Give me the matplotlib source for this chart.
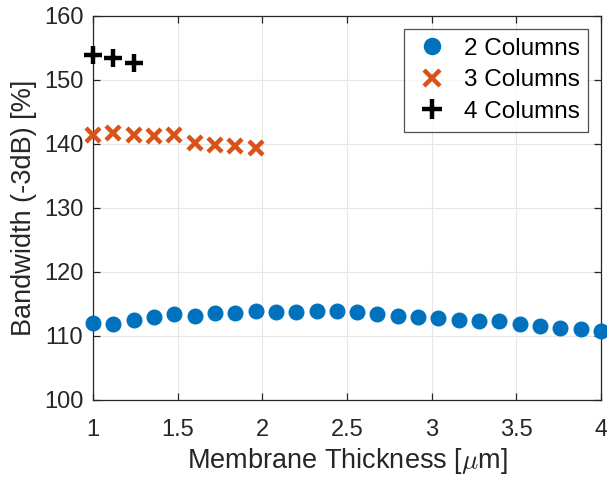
import numpy as np
import matplotlib.pyplot as plt

# thickness values (um)
x2 = [1.00, 1.12, 1.24, 1.36, 1.48, 1.60, 1.72, 1.84, 1.96, 2.08, 2.20, 2.32, 2.44,
      2.56, 2.68, 2.80, 2.92, 3.04, 3.16, 3.28, 3.40, 3.52, 3.64, 3.76, 3.88, 4.00]
bw2 = [112.0, 111.9, 112.5, 113.0, 113.5, 113.2, 113.6, 113.6, 113.95, 113.8, 113.8, 113.95, 113.95,
       113.7, 113.5, 113.2, 113.0, 112.8, 112.55, 112.3, 112.3, 111.9, 111.6, 111.2, 111.1, 110.8]

x3 = [1.00, 1.12, 1.24, 1.36, 1.48, 1.60, 1.72, 1.84, 1.96]
bw3 = [141.4, 141.7, 141.4, 141.25, 141.4, 140.2, 139.9, 139.7, 139.3]

x4 = [1.00, 1.12, 1.24]
bw4 = [153.9, 153.4, 152.6]

xticks = [1, 1.5, 2, 2.5, 3, 3.5, 4]
xticklabels = ['1', '1.5', '2', '2.5', '3', '3.5', '4']
yticks = [100, 110, 120, 130, 140, 150, 160]

plt.rcParams['font.family'] = ['Liberation Sans', 'DejaVu Sans']
plt.rcParams['mathtext.fontset'] = 'cm'

fig = plt.figure(figsize=(6.07, 4.78), dpi=100)
ax = fig.add_axes([93/607, 1 - 400/478, 508/607, 384/478])

txt = '#262626'
ax.plot(x2, bw2, 'o', color='#0072BD', markersize=10.5, label='2 Columns', clip_on=False, zorder=3)
ax.plot(x3, bw3, 'x', color='#D95319', markersize=10, markeredgewidth=3.2, label='3 Columns',
        clip_on=False, zorder=3)
ax.plot(x4, bw4, '+', color='black', markersize=12.5, markeredgewidth=3.2, label='4 Columns',
        clip_on=False, zorder=3)

ax.set_xlim(1, 4)
ax.set_ylim(100, 160)
ax.set_xticks(xticks)
ax.set_xticklabels(xticklabels)
ax.set_yticks(yticks)
ax.grid(True, color='#e6e6e6', linewidth=0.8)
ax.set_axisbelow(True)
ax.tick_params(direction='in', length=5, width=0.9, colors=txt, labelsize=17,
               top=True, right=True)
ax.tick_params(axis='y', pad=7)
ax.tick_params(axis='x', pad=14)
for s in ax.spines.values():
    s.set_color(txt)
    s.set_linewidth(0.9)

ax.set_xlabel(r'Membrane Thickness [$\mu$m]', fontsize=19.5, color=txt, labelpad=3)
ax.set_ylabel('Bandwidth (-3dB) [%]', fontsize=19.5, color=txt, labelpad=5)

leg = ax.legend(loc='upper right', fontsize=17.5, frameon=True, fancybox=False,
                edgecolor=txt, borderpad=0.35, handletextpad=0.5, labelspacing=0.4,
                borderaxespad=0, bbox_to_anchor=((588 - 93) / 508, (400 - 29) / 384),
                handlelength=1.6, markerscale=1.1)
leg.get_frame().set_linewidth(0.9)

fig.savefig('out.png', dpi=100)
